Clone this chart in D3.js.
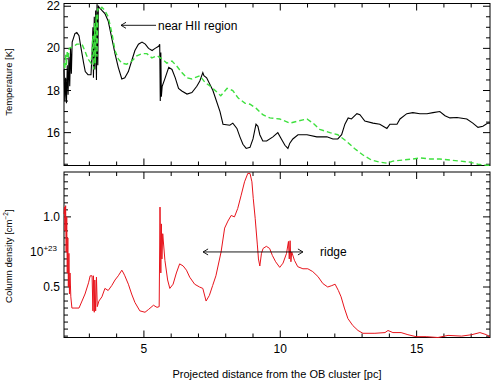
<!DOCTYPE html>
<html>
<head>
<meta charset="utf-8">
<script src="https://cdn.jsdelivr.net/npm/d3@7"></script>
<style>
  body { margin: 0; background: #fff; }
  text { font-family: "Liberation Sans", Arial, Helvetica, sans-serif; }
</style>
</head>
<body>
<div id="chart"></div>
<script>
// data: [distance (pc), value]
var dustTemp = [[2.07,19.0],[2.10,17.5],[2.13,18.6],[2.16,17.4],[2.19,19.2],[2.22,17.8],[2.25,19.6],[2.28,18.2],[2.31,20.0],[2.34,18.8],[2.37,20.3],[2.42,20.5],[2.47,20.7],[2.54,20.75],[2.62,20.6],[2.67,20.2],[2.73,19.75],[2.79,19.3],[2.85,18.9],[2.95,18.75],[3.06,18.75],[3.10,19.8],[3.13,21.0],[3.15,18.6],[3.18,21.5],[3.20,19.0],[3.23,21.8],[3.26,18.5],[3.28,22.1],[3.31,19.2],[3.33,22.0],[3.36,21.95],[3.46,21.8],[3.57,21.65],[3.69,21.3],[3.82,20.5],[3.94,19.75],[4.06,19.1],[4.19,18.55],[4.30,18.6],[4.43,18.9],[4.55,19.4],[4.67,19.9],[4.80,20.2],[4.93,20.3],[5.05,20.2],[5.17,20.0],[5.30,19.9],[5.41,20.0],[5.54,20.1],[5.58,20.2],[5.60,17.5],[5.62,19.8],[5.64,17.7],[5.67,18.2],[5.78,18.6],[5.91,19.1],[6.03,19.0],[6.15,18.6],[6.27,18.1],[6.39,17.98],[6.58,17.83],[6.76,17.9],[6.94,18.2],[7.05,18.45],[7.16,18.85],[7.20,18.7],[7.30,18.6],[7.53,18.0],[7.79,17.0],[7.90,16.4],[8.15,16.35],[8.26,16.45],[8.41,16.2],[8.52,15.8],[8.63,15.45],[8.75,15.25],[8.89,15.3],[9.00,15.7],[9.11,16.4],[9.18,16.3],[9.25,15.9],[9.36,15.6],[9.50,15.6],[9.73,15.8],[9.91,16.0],[10.04,15.7],[10.17,15.4],[10.28,15.25],[10.35,15.5],[10.46,15.7],[10.65,15.9],[10.98,15.9],[11.34,15.8],[11.71,15.8],[11.93,15.7],[12.11,15.7],[12.25,15.9],[12.37,16.4],[12.49,16.7],[12.61,16.65],[12.81,16.9],[12.92,16.85],[13.10,16.55],[13.40,16.45],[13.65,16.4],[13.91,16.2],[14.02,16.4],[14.28,16.4],[14.39,16.65],[14.64,16.9],[14.86,16.95],[15.12,16.9],[15.38,16.9],[15.60,16.95],[15.85,17.0],[16.04,16.8],[16.22,16.7],[16.48,16.72],[16.84,16.65],[17.06,16.45],[17.25,16.25],[17.43,16.3],[17.61,16.45],[17.69,16.45]]

var modelTemp = [[2.07,19.3],[2.10,19.0],[2.13,19.7],[2.16,19.2],[2.19,19.9],[2.22,19.5],[2.26,20.0],[2.33,20.05],[2.43,20.1],[2.54,20.2],[2.73,20.2],[2.83,19.9],[2.95,19.5],[3.06,19.3],[3.10,19.8],[3.13,20.6],[3.16,19.0],[3.19,21.2],[3.22,19.3],[3.25,21.6],[3.28,19.6],[3.31,21.9],[3.35,21.8],[3.46,21.95],[3.57,21.8],[3.69,21.5],[3.83,20.7],[3.94,19.9],[4.06,19.5],[4.19,19.3],[4.37,19.25],[4.56,19.4],[4.74,19.65],[4.93,19.75],[5.11,19.75],[5.29,19.55],[5.48,19.65],[5.66,19.5],[5.84,19.3],[6.03,19.4],[6.21,19.15],[6.39,18.85],[6.58,18.6],[6.76,18.55],[7.05,18.7],[7.23,18.4],[7.53,18.1],[7.82,17.75],[8.05,18.1],[8.26,18.0],[8.45,17.65],[8.70,17.4],[8.89,17.35],[9.12,17.15],[9.36,16.85],[9.62,16.7],[9.98,16.65],[10.35,16.45],[10.65,16.55],[10.98,16.65],[11.20,16.45],[11.45,16.15],[11.82,16.0],[12.11,15.9],[12.42,15.6],[12.72,15.25],[13.02,14.95],[13.34,14.7],[13.65,14.6],[13.91,14.55],[14.13,14.65],[14.50,14.7],[14.86,14.75],[15.12,14.8],[15.49,14.75],[15.85,14.75],[16.22,14.7],[16.59,14.65],[16.95,14.6],[17.25,14.5],[17.56,14.45],[17.69,14.45]]

// column density in units of 1e23 cm^-2
var columnDensity = [[2.07,1.02],[2.09,1.07],[2.11,0.9],[2.13,1.08],[2.15,0.75],[2.17,1.0],[2.19,0.6],[2.21,0.85],[2.23,0.5],[2.25,0.74],[2.27,0.45],[2.29,0.6],[2.32,0.43],[2.36,0.35],[2.47,0.35],[2.62,0.35],[2.73,0.40],[2.84,0.45],[2.97,0.53],[3.03,0.58],[3.10,0.58],[3.13,0.33],[3.15,0.58],[3.18,0.32],[3.20,0.55],[3.23,0.33],[3.26,0.57],[3.29,0.36],[3.35,0.40],[3.46,0.43],[3.57,0.49],[3.69,0.475],[3.82,0.51],[3.94,0.55],[4.06,0.58],[4.19,0.62],[4.25,0.60],[4.30,0.58],[4.43,0.52],[4.55,0.45],[4.67,0.39],[4.85,0.33],[5.04,0.32],[5.17,0.34],[5.35,0.37],[5.48,0.355],[5.56,0.36],[5.59,1.07],[5.62,0.6],[5.64,0.95],[5.66,0.7],[5.69,0.88],[5.77,0.69],[5.87,0.55],[5.95,0.49],[6.07,0.52],[6.19,0.60],[6.31,0.665],[6.44,0.65],[6.56,0.62],[6.68,0.57],[6.86,0.52],[7.04,0.50],[7.16,0.49],[7.28,0.40],[7.40,0.44],[7.52,0.51],[7.64,0.58],[7.83,0.75],[7.96,0.92],[8.08,0.97],[8.20,1.01],[8.32,1.0],[8.44,1.06],[8.56,1.15],[8.69,1.25],[8.81,1.31],[8.89,1.31],[8.96,1.25],[9.01,1.13],[9.08,0.99],[9.16,0.8],[9.20,0.70],[9.25,0.65],[9.31,0.74],[9.37,0.775],[9.49,0.79],[9.61,0.775],[9.71,0.725],[9.83,0.68],[9.98,0.64],[10.10,0.67],[10.23,0.74],[10.30,0.825],[10.33,0.7],[10.36,0.83],[10.39,0.68],[10.42,0.75],[10.52,0.69],[10.64,0.645],[10.83,0.63],[11.01,0.63],[11.19,0.61],[11.38,0.575],[11.56,0.525],[11.74,0.50],[11.89,0.51],[12.01,0.52],[12.13,0.475],[12.23,0.43],[12.35,0.35],[12.48,0.275],[12.66,0.225],[12.85,0.19],[13.03,0.17],[13.47,0.17],[13.84,0.175],[13.95,0.19],[14.13,0.175],[14.43,0.175],[14.68,0.16],[14.98,0.146],[15.35,0.146],[15.78,0.14],[16.15,0.155],[16.65,0.15],[17.02,0.16],[17.32,0.175],[17.56,0.16],[17.69,0.145]]

// tick values
var distanceLabels = [5, 10, 15]
var distanceMinor = d3.range(3, 18, 1)
var tempLabels = [16, 18, 20, 22]
var tempMinor = d3.range(14.5, 22.01, 0.5)
var densityLabels = [0.5, 1.0]
var densityMinor = d3.range(0.15, 1.31, 0.05)

var width = 491
    height = 382

var svg = d3.select("#chart")
  .append("svg")
    .attr("width", width)
    .attr("height", height)

var x = d3.scaleLinear().domain([2.07, 17.69]).range([64, 490])
var yT = d3.scaleLinear().domain([14.44, 22.13]).range([165.5, 3.5])
var yN = d3.scaleLinear().domain([0.14, 1.32]).range([337.5, 172])

// draws the box with inward ticks on all four sides
function panel(y, yLabels, yMinor, showX) {
  var top = y.range()[1], bottom = y.range()[0]
  var left = x.range()[0], right = x.range()[1]
  var g = svg.append("g")

  g.append("rect")
    .attr("x", left).attr("y", top)
    .attr("width", right - left).attr("height", bottom - top)
    .attr("fill", "none").attr("stroke", "#000").attr("stroke-width", 1)

  distanceMinor.forEach(function(d) {
    var len = distanceLabels.indexOf(d) >= 0 ? 7 : 4
    g.append("line").attr("x1", x(d)).attr("x2", x(d)).attr("y1", bottom).attr("y2", bottom - len).attr("stroke", "#000")
    g.append("line").attr("x1", x(d)).attr("x2", x(d)).attr("y1", top).attr("y2", top + len).attr("stroke", "#000")
  })

  yMinor.forEach(function(d) {
    var major = yLabels.some(function(v) { return Math.abs(v - d) < 1e-6 })
    var len = major ? 7 : 4
    g.append("line").attr("x1", left).attr("x2", left + len).attr("y1", y(d)).attr("y2", y(d)).attr("stroke", "#000")
    g.append("line").attr("x1", right).attr("x2", right - len).attr("y1", y(d)).attr("y2", y(d)).attr("stroke", "#000")
  })

  g.selectAll(".ylab")
    .data(yLabels)
    .enter()
    .append("text")
      .attr("x", left - 4)
      .attr("y", function(d) { return y(d) + 4 })
      .attr("text-anchor", "end")
      .style("font-size", "12px")
      .text(function(d) { return d % 1 === 0 && d > 2 ? d : d.toFixed(1) })

  if (showX) {
    g.selectAll(".xlab")
      .data(distanceLabels)
      .enter()
      .append("text")
        .attr("x", function(d) { return x(d) })
        .attr("y", bottom + 15)
        .attr("text-anchor", "middle")
        .style("font-size", "12px")
        .text(function(d) { return d })
  }
  return g
}

panel(yT, tempLabels, tempMinor, false)
panel(yN, densityLabels, densityMinor, true)

var lineT = d3.line().x(function(d) { return x(d[0]) }).y(function(d) { return yT(d[1]) })
var lineN = d3.line().x(function(d) { return x(d[0]) }).y(function(d) { return yN(d[1]) })

svg.append("path")
  .attr("d", lineT(dustTemp))
  .attr("fill", "none")
  .attr("stroke", "#000")
  .attr("stroke-width", 1.1)

// model curve sits on top so its dashes show through the spikes
svg.append("path")
  .attr("d", lineT(modelTemp))
  .attr("fill", "none")
  .attr("stroke", "#3ee03e")
  .attr("stroke-width", 1.4)
  .attr("stroke-dasharray", "5,3")

svg.append("path")
  .attr("d", lineN(columnDensity))
  .attr("fill", "none")
  .attr("stroke", "#e8141c")
  .attr("stroke-width", 1)

// exponent label on the density axis
var expLab = svg.append("text")
  .attr("x", 57)
  .attr("y", yN(0.75) + 4)
  .attr("text-anchor", "end")
  .style("font-size", "12px")
expLab.append("tspan").text("10")
expLab.append("tspan").attr("dy", -5).style("font-size", "8px").text("+23")

// annotations
function arrowHead(px, py, dir) {
  svg.append("path")
    .attr("d", "M" + (px + dir * 5) + "," + (py - 3) + "L" + px + "," + py + "L" + (px + dir * 5) + "," + (py + 3))
    .attr("fill", "none").attr("stroke", "#000").attr("stroke-width", 0.9)
}

var hiiY = 25.3
svg.append("line").attr("x1", 121).attr("x2", 156).attr("y1", hiiY).attr("y2", hiiY).attr("stroke", "#000").attr("stroke-width", 0.9)
arrowHead(121, hiiY, 1)
svg.append("text").attr("x", 158).attr("y", 30).style("font-size", "12px").text("near HII region")

var ridgeY = yN(0.75)
svg.append("line").attr("x1", x(7.17)).attr("x2", x(10.83)).attr("y1", ridgeY).attr("y2", ridgeY).attr("stroke", "#000").attr("stroke-width", 0.9)
arrowHead(x(7.17), ridgeY, 1)
arrowHead(x(10.83), ridgeY, -1)
svg.append("text").attr("x", 320).attr("y", ridgeY + 4).style("font-size", "12px").text("ridge")

// axis titles
svg.append("text")
  .attr("transform", "translate(12," + yT(18.4) + ") rotate(-90)")
  .attr("text-anchor", "middle")
  .style("font-size", "9.5px")
  .text("Temperature [K]")

var yt = svg.append("text")
  .attr("transform", "translate(12," + yN(0.72) + ") rotate(-90)")
  .attr("text-anchor", "middle")
  .style("font-size", "9.5px")
yt.append("tspan").text("Column density [cm")
yt.append("tspan").attr("dy", -4).style("font-size", "6.5px").text("\u22122")
yt.append("tspan").attr("dy", 4).text("]")

svg.append("text")
  .attr("x", 277)
  .attr("y", 378)
  .attr("text-anchor", "middle")
  .style("font-size", "11px")
  .text("Projected distance from the OB cluster [pc]")
</script>
</body>
</html>
